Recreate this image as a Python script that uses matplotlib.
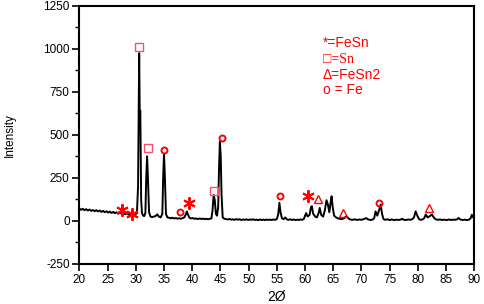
import matplotlib
matplotlib.use("Agg")
import matplotlib.pyplot as plt
from matplotlib.ticker import MultipleLocator

plt.rcParams['font.family'] = ['Liberation Sans', 'DejaVu Sans']
plt.rcParams['axes.unicode_minus'] = False

# XRD trace: 2-theta positions and intensities
two_theta = [
    20.0, 20.3, 20.6, 20.9, 21.2, 21.5, 21.8, 22.1, 22.4, 22.7, 23.0, 23.3, 23.6, 23.9,
    24.2, 24.5, 24.8, 25.1, 25.4, 25.7, 26.0, 26.3, 26.6, 26.9, 27.2, 27.5, 27.8, 28.1,
    28.4, 28.7, 29.0, 29.3, 29.6, 29.9, 30.2, 30.4, 30.6, 30.7, 30.8, 30.95, 31.1, 31.3,
    31.5, 31.7, 31.85, 32.0, 32.15, 32.35, 32.6, 32.9, 33.2, 33.5, 33.8, 34.1, 34.4, 34.7,
    34.85, 35.0, 35.15, 35.35, 35.6, 35.9, 36.2, 36.5, 36.8, 37.1, 37.4, 37.7, 38.0, 38.3,
    38.6, 38.9, 39.05, 39.2, 39.5, 39.8, 40.1, 40.4, 40.7, 41.0, 41.3, 41.6, 41.9, 42.2,
    42.5, 42.8, 43.1, 43.4, 43.6, 43.8, 44.0, 44.2, 44.4, 44.6, 44.75, 44.9, 45.05, 45.2,
    45.4, 45.7, 46.0, 46.3, 46.6, 46.9, 47.2, 47.5, 47.8, 48.1, 48.4, 48.7, 49.0, 49.3,
    49.6, 49.9, 50.2, 50.5, 50.8, 51.1, 51.4, 51.7, 52.0, 52.3, 52.6, 52.9, 53.2, 53.5,
    53.8, 54.1, 54.4, 54.7, 55.0, 55.25, 55.45, 55.65, 55.9, 56.2, 56.5, 56.8, 57.1, 57.4,
    57.7, 58.0, 58.3, 58.6, 58.9, 59.2, 59.5, 59.8, 60.0, 60.2, 60.45, 60.8, 61.05, 61.2,
    61.45, 61.8, 62.1, 62.4, 62.6, 62.85, 63.2, 63.5, 63.8, 64.05, 64.3, 64.5, 64.7, 64.9,
    65.15, 65.5, 65.8, 66.1, 66.5, 66.9, 67.35, 67.7, 68.0, 68.4, 68.8, 69.2, 69.6, 70.0,
    70.4, 70.8, 71.2, 71.6, 72.0, 72.25, 72.5, 72.8, 73.1, 73.4, 73.65, 73.9, 74.2, 74.6,
    75.0, 75.4, 75.8, 76.2, 76.6, 77.0, 77.2, 77.5, 77.9, 78.3, 78.7, 79.0, 79.3, 79.6,
    79.9, 80.2, 80.5, 80.8, 81.1, 81.4, 81.7, 82.0, 82.5, 82.8, 83.1, 83.5, 83.9, 84.3,
    84.7, 85.1, 85.5, 85.9, 86.3, 86.7, 87.0, 87.2, 87.5, 87.9, 88.3, 88.7, 89.1, 89.35,
    89.55, 89.8, 90.0,
]
intensity = [
    72, 64, 70, 62, 68, 60, 66, 58, 63, 56, 62, 55, 60, 52,
    58, 50, 56, 48, 54, 46, 52, 44, 50, 42, 48, 40, 46, 38,
    44, 36, 42, 35, 40, 36, 45, 200, 975, 610, 640, 120, 45, 30,
    28, 45, 250, 375, 250, 50, 25, 22, 25, 28, 38, 25, 20, 40,
    250, 390, 260, 40, 20, 18, 15, 18, 14, 16, 13, 15, 12, 16,
    20, 40, 55, 40, 18, 14, 16, 12, 14, 10, 14, 11, 13, 10,
    12, 9, 12, 14, 60, 150, 120, 40, 30, 80, 300, 460, 380, 150,
    20, 12, 10, 8, 11, 7, 9, 6, 10, 7, 9, 5, 8, 6,
    9, 5, 8, 6, 9, 5, 7, 4, 8, 5, 7, 4, 8, 5,
    7, 5, 8, 6, 10, 40, 105, 50, 15, 10, 20, 8, 6, 9,
    5, 8, 4, 7, 5, 8, 6, 12, 30, 45, 25, 35, 80, 85,
    40, 25, 20, 45, 75, 35, 25, 60, 120, 95, 50, 100, 143, 80,
    30, 20, 15, 12, 10, 15, 27, 14, 8, 6, 9, 5, 8, 6,
    10, 16, 8, 5, 8, 15, 55, 30, 60, 95, 40, 10, 6, 9,
    5, 8, 4, 7, 5, 8, 12, 6, 5, 8, 6, 10, 20, 55,
    30, 10, 6, 8, 15, 37, 20, 25, 37, 20, 10, 6, 8, 5,
    7, 4, 8, 5, 7, 6, 10, 17, 8, 5, 7, 4, 8, 15,
    35, 20, 15,
]

# Phase markers (position, height)
fesn_x = [27.6, 29.4, 39.4, 60.5]
fesn_y = [62, 42, 102, 145]
sn_x = [30.5, 32.2, 43.9]
sn_y = [1012, 424, 176]
fesn2_x = [62.3, 66.7, 81.9]
fesn2_y = [128, 47, 76]
fe_x = [35.0, 37.8, 45.3, 55.5, 73.1]
fe_y = [410, 54, 484, 143, 101]

legend_lines = ["*=FeSn", "\u25a1=Sn", "\u0394=FeSn2", "o = Fe"]

fig = plt.figure(figsize=(4.84, 3.04), dpi=100)
ax = fig.add_axes([0.164, 0.132, 0.816, 0.849])

ax.plot(two_theta, intensity, color='black', lw=1.4, zorder=3)

red = '#ff0000'
ax.plot(fesn_x, fesn_y, ls='none', marker=(6, 2, 0), ms=9, mew=1.4, color=red, zorder=4)
ax.plot(sn_x, sn_y, ls='none', marker='s', ms=6, mfc='none', mec='#ff4d6a', mew=1.0, zorder=4)
ax.plot(fesn2_x, fesn2_y, ls='none', marker='^', ms=6, mfc='none', mec=red, mew=1.0, zorder=4)
ax.plot(fe_x, fe_y, ls='none', marker='o', ms=4.3, mfc='none', mec=red, mew=1.4, zorder=4)

ax.set_xlim(20, 90)
ax.set_ylim(-250, 1250)
ax.xaxis.set_major_locator(MultipleLocator(5))
ax.yaxis.set_major_locator(MultipleLocator(250))
ax.yaxis.set_minor_locator(MultipleLocator(125))
ax.tick_params(axis='both', which='major', direction='out', length=5, width=1.2,
               labelsize=8.5, pad=2)
ax.tick_params(axis='y', which='minor', direction='out', length=3, width=1.0)
for sp in ax.spines.values():
    sp.set_linewidth(1.5)

ax.set_xlabel('2\u00d8', fontsize=10, labelpad=3)
ax.set_ylabel('Intensity', fontsize=8.5, labelpad=20)

leg_y = [1034, 937, 846, 759]
for txt, yy in zip(legend_lines, leg_y):
    fam = ['Liberation Serif', 'DejaVu Sans'] if txt.startswith('\u25a1') else ['Liberation Sans', 'DejaVu Sans']
    ax.text(63.2, yy, txt, color=red, fontsize=10, va='center', ha='left', family=fam)

fig.savefig('out.png', dpi=100)
